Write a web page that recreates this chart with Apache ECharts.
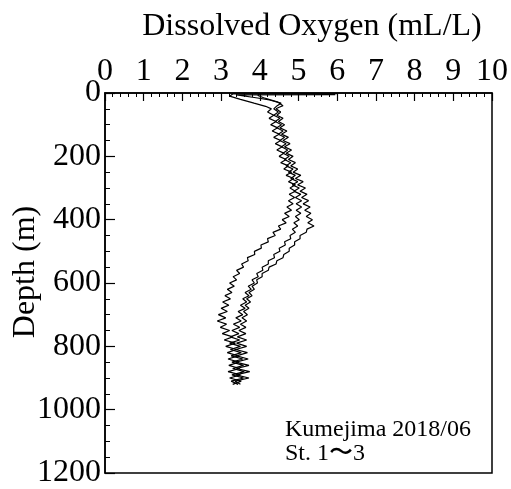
<!DOCTYPE html>
<html>
<head>
<meta charset="utf-8">
<script src="https://cdn.jsdelivr.net/npm/echarts@6/dist/echarts.min.js"></script>
<style>
  html, body { margin: 0; padding: 0; background: #fff; }
  #chart { width: 511px; height: 489px; }
</style>
</head>
<body>
<div id="chart"></div>
<script>
  // sampling depths (m) for the profiles below 50 m
  var depth = [50, 60, 70, 80, 90, 100, 110, 120, 130, 140, 150, 160, 170, 180, 190,
    200, 210, 220, 230, 240, 250, 260, 270, 280, 290, 300, 310, 320, 330, 340,
    350, 360, 370, 380, 390, 400, 410, 420, 430, 440, 450, 460, 470, 480, 490,
    500, 510, 520, 530, 540, 550, 560, 570, 580, 590, 600, 610, 620, 630, 640,
    650, 660, 670, 680, 690, 700, 710, 720, 730, 740, 750, 760, 770, 780, 790,
    800, 810, 820, 830, 840, 850, 860, 870, 880, 890, 900, 910, 920]

  // near-surface part of each cast: [DO, depth]
  var surf1 = [[6.0, 2], [3.3, 3], [3.22, 10], [3.5, 20], [3.85, 32], [4.15, 42]]
  var surf2 = [[5.95, 5], [3.4, 6], [3.9, 15], [4.25, 22], [4.55, 32], [4.45, 40]]
  var surf3 = [[4.0, 1], [3.95, 8], [4.1, 15], [4.45, 28], [4.6, 40], [4.5, 45]]

  // dissolved oxygen (mL/L) at the depths above
  var st1 = [4.30, 4.20, 4.36, 4.24, 4.42, 4.28, 4.46, 4.32, 4.50, 4.36, 4.54, 4.40, 4.58, 4.44, 4.62,
    4.50, 4.68, 4.54, 4.74, 4.62, 4.82, 4.68, 4.88, 4.74, 4.92, 4.78, 4.92, 4.76, 4.90, 4.74,
    4.86, 4.70, 4.82, 4.64, 4.76, 4.58, 4.68, 4.48, 4.54, 4.34, 4.40, 4.20, 4.22, 4.03, 4.04,
    3.86, 3.87, 3.68, 3.70, 3.53, 3.58, 3.40, 3.48, 3.31, 3.40, 3.22, 3.34, 3.16, 3.28, 3.10,
    3.24, 3.04, 3.20, 3.00, 3.16, 2.93, 3.12, 2.90, 3.14, 2.98, 3.22, 3.03, 3.30, 3.08, 3.37,
    3.12, 3.40, 3.16, 3.44, 3.18, 3.46, 3.20, 3.48, 3.18, 3.50, 3.22, 3.52, 3.30]
  var st2 = [4.36, 4.48, 4.36, 4.52, 4.40, 4.56, 4.44, 4.60, 4.48, 4.64, 4.52, 4.68, 4.56, 4.72, 4.60,
    4.76, 4.64, 4.80, 4.68, 4.86, 4.74, 4.92, 4.80, 4.98, 4.84, 5.02, 4.88, 5.06, 4.92, 5.08,
    4.94, 5.08, 4.94, 5.06, 4.92, 5.02, 4.88, 4.98, 4.84, 4.92, 4.78, 4.80, 4.64, 4.66, 4.50,
    4.52, 4.36, 4.38, 4.22, 4.22, 4.06, 4.08, 3.92, 3.96, 3.80, 3.86, 3.70, 3.78, 3.62, 3.72,
    3.56, 3.66, 3.50, 3.62, 3.44, 3.56, 3.38, 3.52, 3.32, 3.48, 3.28, 3.46, 3.24, 3.48, 3.22,
    3.50, 3.24, 3.52, 3.26, 3.56, 3.28, 3.58, 3.30, 3.60, 3.28, 3.58, 3.26, 3.44]
  var st3 = [4.42, 4.54, 4.44, 4.60, 4.48, 4.64, 4.52, 4.70, 4.56, 4.74, 4.60, 4.78, 4.64, 4.82, 4.68,
    4.86, 4.74, 4.92, 4.80, 4.98, 4.86, 5.06, 4.92, 5.12, 4.98, 5.18, 5.04, 5.22, 5.08, 5.26,
    5.12, 5.30, 5.16, 5.32, 5.20, 5.36, 5.24, 5.40, 5.22, 5.20, 5.04, 5.04, 4.90, 4.90, 4.76,
    4.76, 4.62, 4.60, 4.44, 4.42, 4.24, 4.22, 4.06, 4.06, 3.92, 3.94, 3.80, 3.86, 3.72, 3.80,
    3.66, 3.76, 3.62, 3.72, 3.58, 3.68, 3.54, 3.66, 3.50, 3.64, 3.46, 3.64, 3.42, 3.66, 3.40,
    3.66, 3.38, 3.68, 3.40, 3.70, 3.38, 3.72, 3.40, 3.74, 3.38, 3.72, 3.36, 3.50]

  var xTitle = 'Dissolved Oxygen (mL/L)'
  var yTitle = 'Depth (m)'
  var note1 = 'Kumejima 2018/06'
  var note2 = 'St. 1〜3'

  function profile (surf, vals) {
    var out = surf.slice()
    for (var i = 0; i < vals.length; i++) {
      out.push([vals[i], depth[i]])
    }
    return out
  }

  var serif = '"Liberation Serif", "Times New Roman", serif'
  var chart = echarts.init(document.getElementById('chart'), null, {renderer: 'canvas'})

  var lineSeries = function (data) {
    return {
      type: 'line',
      data: data,
      showSymbol: false,
      symbol: 'none',
      animation: false,
      lineStyle: {color: '#000', width: 1.2}
    }
  }

  chart.setOption({
    animation: false,
    backgroundColor: '#fff',
    grid: {
      left: 105,
      right: 19,
      top: 93,
      bottom: 10,
      show: true,
      borderColor: '#000',
      borderWidth: 1.5
    },
    xAxis: {
      type: 'value',
      position: 'top',
      min: 0,
      max: 10,
      interval: 1,
      axisLine: {show: true, onZero: false, lineStyle: {color: '#000', width: 1.5}},
      axisTick: {show: true, inside: true, length: 8, lineStyle: {color: '#000', width: 1.2}},
      minorTick: {show: true, splitNumber: 5, length: 4, lineStyle: {color: '#000', width: 1}},
      axisLabel: {color: '#000', fontFamily: serif, fontSize: 32, margin: 5},
      splitLine: {show: false}
    },
    yAxis: {
      type: 'value',
      inverse: true,
      min: 0,
      max: 1200,
      interval: 200,
      axisLine: {show: true, onZero: false, lineStyle: {color: '#000', width: 1.5}},
      axisTick: {show: true, inside: true, length: 10, lineStyle: {color: '#000', width: 1.2}},
      minorTick: {show: true, splitNumber: 4, length: 5, lineStyle: {color: '#000', width: 1}},
      axisLabel: {
        color: '#000',
        fontFamily: serif,
        fontSize: 32,
        margin: 4,
        formatter: function (v) { return String(v) }
      },
      splitLine: {show: false}
    },
    graphic: [
      {
        type: 'text',
        x: 312,
        y: 27,
        style: {text: xTitle, font: '32px ' + serif, fill: '#000', textAlign: 'center', textVerticalAlign: 'middle'}
      },
      {
        type: 'text',
        x: 26,
        y: 272,
        rotation: Math.PI / 2,
        style: {text: yTitle, font: '32px ' + serif, fill: '#000', textAlign: 'center', textVerticalAlign: 'middle'}
      },
      {
        type: 'text',
        x: 285,
        y: 430,
        style: {text: note1, font: '24px ' + serif, fill: '#000', textAlign: 'left', textVerticalAlign: 'middle'}
      },
      {
        type: 'text',
        x: 285,
        y: 454,
        style: {text: note2, font: '24px ' + serif, fill: '#000', textAlign: 'left', textVerticalAlign: 'middle'}
      }
    ],
    series: [
      lineSeries(profile(surf1, st1)),
      lineSeries(profile(surf2, st2)),
      lineSeries(profile(surf3, st3))
    ]
  })
</script>
</body>
</html>
